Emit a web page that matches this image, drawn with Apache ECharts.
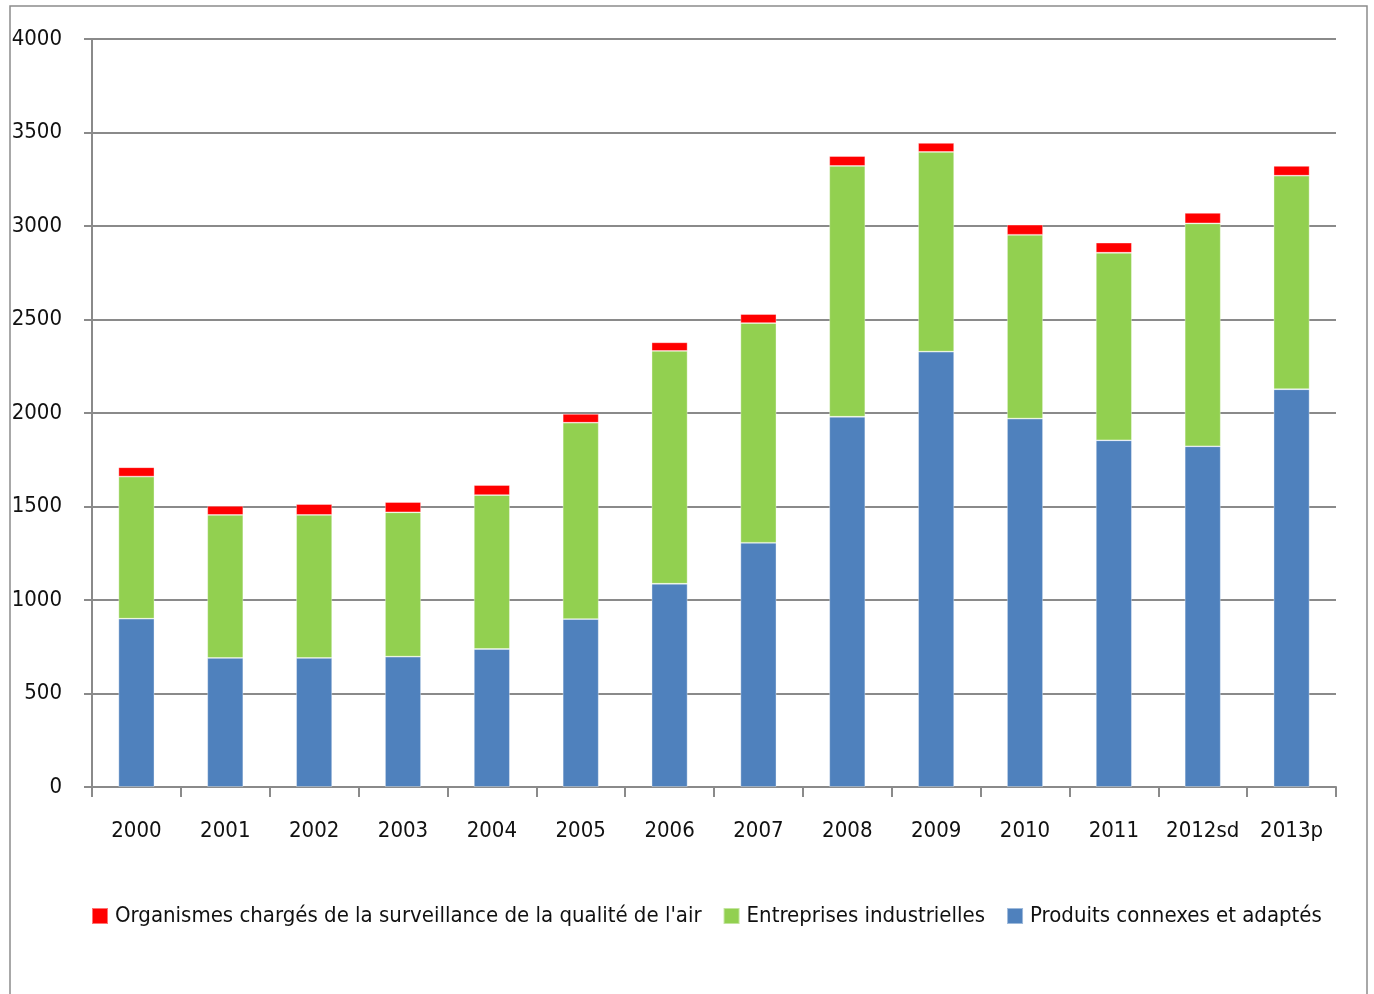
<!DOCTYPE html>
<html>
<head>
<meta charset="utf-8">
<script src="https://cdn.jsdelivr.net/npm/echarts@6/dist/echarts.min.js"></script>
<style>
  html, body { margin: 0; padding: 0; background: #ffffff; }
  #chart { width: 1374px; height: 994px; }
</style>
</head>
<body>
<div id="chart"></div>
<script>
// Years (sd = semi-définitif, p = provisoire)
const years = ['2000', '2001', '2002', '2003', '2004', '2005', '2006', '2007', '2008', '2009', '2010', '2011', '2012sd', '2013p'];

// Millions of euros per segment
const produitsConnexes = [900, 690, 690, 697, 738, 898, 1087, 1306, 1980, 2328, 1970, 1854, 1822, 2127];
const entreprisesIndustrielles = [760, 765, 765, 772, 823, 1050, 1245, 1175, 1341, 1068, 983, 1003, 1192, 1142];
const organismesSurveillance = [50, 48, 58, 55, 54, 47, 46, 48, 53, 48, 54, 54, 56, 52];

const yTicks = { min: 0, max: 4000, interval: 500 };

const names = {
  red: "Organismes chargés de la surveillance de la qualité de l'air",
  green: 'Entreprises industrielles',
  blue: 'Produits connexes et adaptés'
};

const FONT = "'Liberation Sans Narrow', 'DejaVu Sans Condensed', 'Noto Sans', sans-serif";
const gridColor = '#8a8a8a';

const chart = echarts.init(document.getElementById('chart'), null, { renderer: 'canvas' });

function barSeries(name, data, color) {
  return {
    name: name,
    type: 'bar',
    stack: 'total',
    data: data,
    barWidth: 36,
    itemStyle: { color: color, borderColor: 'rgba(255,255,255,0.45)', borderWidth: 0.8 },
    emphasis: { disabled: true }
  };
}

chart.setOption({
  animation: false,
  textStyle: { fontFamily: FONT },
  graphic: [{
    type: 'rect',
    shape: { x: 10, y: 6, width: 1357, height: 1000 },
    style: { fill: 'none', stroke: '#8c8c8c', lineWidth: 1.5 },
    silent: true,
    z: -1
  }],
  grid: { left: 92, right: 38, top: 39, bottom: 207, containLabel: false },
  legend: {
    data: [names.red, names.green, names.blue],
    left: 86,
    top: 900,
    itemWidth: 16,
    itemHeight: 16,
    itemGap: 21,
    icon: 'rect',
    textStyle: { fontFamily: FONT, fontSize: 22, color: '#111', padding: [0, 0, 0, 2] }
  },
  xAxis: {
    type: 'category',
    data: years,
    axisLine: { lineStyle: { color: gridColor, width: 2 } },
    axisTick: { show: true, length: 10, interval: 0, alignWithLabel: false, lineStyle: { color: gridColor, width: 2 } },
    axisLabel: { interval: 0, fontFamily: FONT, fontSize: 22, color: '#111', margin: 33 }
  },
  yAxis: {
    type: 'value',
    min: yTicks.min,
    max: yTicks.max,
    interval: yTicks.interval,
    axisLine: { show: true, lineStyle: { color: gridColor, width: 2 } },
    axisTick: { show: true, length: 8, lineStyle: { color: gridColor, width: 2 } },
    axisLabel: { fontFamily: FONT, fontSize: 22, color: '#111', margin: 30, formatter: (v) => String(v) },
    splitLine: { lineStyle: { color: gridColor, width: 2 } }
  },
  series: [
    barSeries(names.blue, produitsConnexes, '#4f81bd'),
    barSeries(names.green, entreprisesIndustrielles, '#92d050'),
    barSeries(names.red, organismesSurveillance, '#ff0000')
  ]
});
</script>
</body>
</html>
